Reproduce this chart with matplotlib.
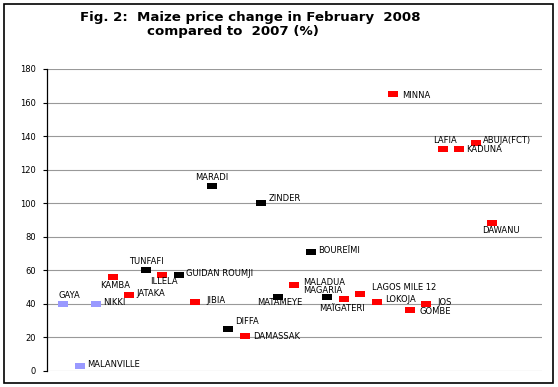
import matplotlib
matplotlib.use("Agg")
import matplotlib.pyplot as plt
from matplotlib.patches import Rectangle

plt.rcParams['font.family'] = ['DejaVu Sans']

# markets in the order they appear along the x axis
markets = ["GAYA", "MALANVILLE", "NIKKI", "KAMBA", "JATAKA", "TUNFAFI",
           "ILLELA", "GUIDAN ROUMJI", "JIBIA", "MARADI", "DIFFA", "DAMASSAK",
           "ZINDER", "MATAMEYE", "MALADUA", "BOUREÏMI", "MAGARIA", "MAÏGATERI",
           "LAGOS MILE 12", "LOKOJA", "MINNA", "GOMBE", "JOS", "LAFIA",
           "KADUNA", "ABUJA(FCT)", "DAWANU"]
change = [40, 3, 40, 56, 45, 60,
          57, 57, 41, 110, 25, 21,
          100, 44, 51, 71, 44, 43,
          46, 41, 165, 36, 40, 132,
          132, 136, 88]
country = ["benin", "benin", "benin", "nigeria", "nigeria", "niger",
           "nigeria", "niger", "nigeria", "niger", "niger", "nigeria",
           "niger", "niger", "nigeria", "niger", "niger", "nigeria",
           "nigeria", "nigeria", "nigeria", "nigeria", "nigeria", "nigeria",
           "nigeria", "nigeria", "nigeria"]

colors = {"benin": "#9999ff", "niger": "black", "nigeria": "#ff0000"}

# label offset (pixels from marker centre to left edge / v-centre of text)
label_offset = {
    "GAYA": (-5, 8), "MALANVILLE": (7, 1), "NIKKI": (7, 1),
    "KAMBA": (-13, -9), "JATAKA": (7, 2), "TUNFAFI": (-17, 9),
    "ILLELA": (-12, -6), "GUIDAN ROUMJI": (7, 2), "JIBIA": (11, 1),
    "MARADI": (-17, 9), "DIFFA": (7, 7), "DAMASSAK": (8, -1),
    "ZINDER": (7, 5), "MATAMEYE": (-21, -6), "MALADUA": (9, 3),
    "BOUREÏMI": (7, 1), "MAGARIA": (-24, 6), "MAÏGATERI": (-25, -10),
    "LAGOS MILE 12": (12, 6), "LOKOJA": (8, 2), "MINNA": (9, -1),
    "GOMBE": (10, -1), "JOS": (11, 1), "LAFIA": (-10, 9),
    "KADUNA": (7, 0), "ABUJA(FCT)": (7, 2), "DAWANU": (-10, -7),
}

rect = [(-1, -0.55), (1, -0.55), (1, 0.55), (-1, 0.55), (-1, -0.55)]

fig = plt.figure(figsize=(5.58, 3.87), dpi=100)
ax = fig.add_axes([47 / 558, 1 - 370.7 / 387, (541.7 - 47) / 558, (370.7 - 69) / 387])

for i, (name, val, c) in enumerate(zip(markets, change, country)):
    x = i + 1
    ax.plot(x, val, linestyle='none', marker=rect, markersize=6.6,
            color=colors[c], markeredgewidth=0, zorder=3)
    dx, dy = label_offset[name]
    ax.annotate(name, (x, val), xytext=(dx, dy), textcoords='offset pixels',
                ha='left', va='center', fontsize=6.0, zorder=4)

ax.set_xlim(0, 30)
ax.set_ylim(0, 180)
ax.set_yticks(range(0, 181, 20))
ax.set_xticks([])
ax.yaxis.grid(True, color='#999999', linewidth=0.8)
ax.set_axisbelow(True)
for side in ['top', 'right', 'bottom']:
    ax.spines[side].set_visible(False)
ax.spines['left'].set_linewidth(0.9)
ax.tick_params(axis='y', length=3, width=0.8, pad=5, labelsize=6)

fig.text(250 / 558, 1 - 18 / 387, "Fig. 2:  Maize price change in February  2008",
         ha='center', va='center', fontsize=9.6, fontweight='bold')
fig.text(233 / 558, 1 - 32 / 387, "compared to  2007 (%)",
         ha='center', va='center', fontsize=9.6, fontweight='bold')

fig.patches.append(Rectangle((4 / 558, 4 / 387), 549 / 558, 379.5 / 387,
                             transform=fig.transFigure, fill=False,
                             edgecolor='black', linewidth=1.2))

fig.savefig("out.png", dpi=100)
